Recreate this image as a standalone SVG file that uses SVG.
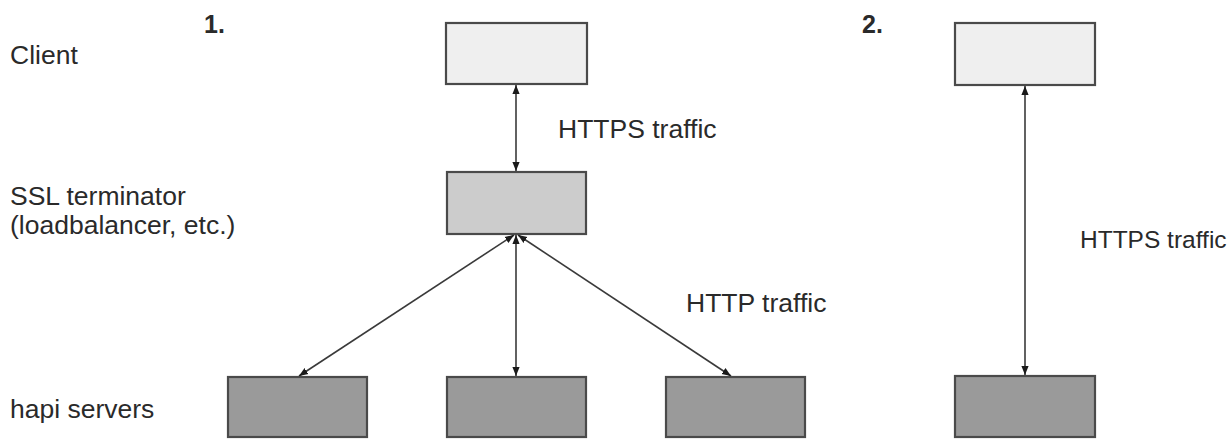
<svg xmlns="http://www.w3.org/2000/svg" width="1228" height="439" viewBox="0 0 1228 439">
<style>
text{font-family:"Liberation Sans",Arial,sans-serif;fill:#2a2a2a;font-size:26.5px}
.num{font-weight:bold;font-size:25px}
.box{stroke:#4a4a4a;stroke-width:2.2}
.c{fill:#efefef}
.s{fill:#cccccc}
.h{fill:#9a9a9a}
.con line{stroke:#3a3a3a;stroke-width:1.6;marker-start:url(#ah);marker-end:url(#ah)}
</style>
<defs>
<marker id="ah" viewBox="0 0 10 10" refX="10" refY="5" markerWidth="9" markerHeight="9" markerUnits="userSpaceOnUse" orient="auto-start-reverse">
<path d="M0,1 L10,5 L0,9 z" fill="#1a1a1a"/>
</marker>
</defs>
<rect width="1228" height="439" fill="#ffffff"/>
<g id="labels">
<text x="10" y="64">Client</text>
<text x="10" y="205">SSL terminator</text>
<text x="10" y="234">(loadbalancer, etc.)</text>
<text x="10" y="418">hapi servers</text>
<text class="num" x="204" y="33">1.</text>
<text class="num" x="862" y="33">2.</text>
<text x="558" y="138">HTTPS traffic</text>
<text x="686" y="312">HTTP traffic</text>
<text x="1080" y="248" style="font-size:24.5px">HTTPS traffic</text>
</g>
<g id="client1"><rect class="box c" x="446" y="23" width="141" height="61"/></g>
<g id="ssl1"><rect class="box s" x="447" y="172" width="139" height="62"/></g>
<g id="hapi1a"><rect class="box h" x="228" y="377" width="139" height="60"/></g>
<g id="hapi1b"><rect class="box h" x="447" y="377" width="139" height="60"/></g>
<g id="hapi1c"><rect class="box h" x="666" y="377" width="139" height="60"/></g>
<g id="client2"><rect class="box c" x="955" y="23" width="140" height="62"/></g>
<g id="hapi2"><rect class="box h" x="955" y="376" width="140" height="61"/></g>
<g id="connectors" class="con">
<line x1="516" y1="85" x2="516" y2="171"/>
<line x1="516" y1="235" x2="516" y2="376"/>
<line x1="514" y1="235" x2="299" y2="376"/>
<line x1="518" y1="235" x2="731" y2="376"/>
<line x1="1025" y1="86" x2="1025" y2="375"/>
</g>
</svg>
